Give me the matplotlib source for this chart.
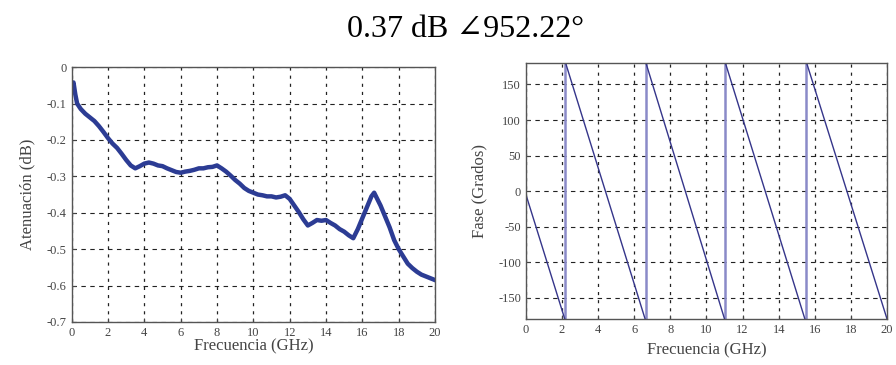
import matplotlib
matplotlib.use("Agg")
import matplotlib.pyplot as plt

plt.rcParams["axes.unicode_minus"] = False

# attenuation curve (left)
att_freq = [0.0, 0.1, 0.2, 0.3, 0.5, 0.75, 1.0, 1.25, 1.5, 1.75, 2.0, 2.25, 2.5, 2.75,
            3.0, 3.25, 3.5, 3.75, 4.0, 4.25, 4.5, 4.75, 5.0, 5.25, 5.5, 5.75, 6.0, 6.25,
            6.5, 6.75, 7.0, 7.25, 7.5, 7.75, 8.0, 8.25, 8.5, 8.75, 9.0, 9.25, 9.5, 9.75,
            10.0, 10.25, 10.5, 10.75, 11.0, 11.25, 11.5, 11.75, 12.0, 12.25, 12.5, 12.75,
            13.0, 13.25, 13.5, 13.75, 14.0, 14.25, 14.5, 14.75, 15.0, 15.25, 15.5, 15.75,
            16.0, 16.25, 16.5, 16.65, 16.8, 17.0, 17.25, 17.5, 17.75, 18.0, 18.25, 18.5,
            18.75, 19.0, 19.25, 19.5, 19.75, 20.0]
att_db = [-0.050, -0.042, -0.075, -0.100, -0.115, -0.128, -0.138, -0.148, -0.162, -0.178,
          -0.195, -0.210, -0.222, -0.238, -0.255, -0.270, -0.278, -0.272, -0.265, -0.262,
          -0.265, -0.270, -0.272, -0.278, -0.283, -0.288, -0.290, -0.287, -0.285, -0.282,
          -0.278, -0.278, -0.275, -0.274, -0.270, -0.278, -0.287, -0.298, -0.310, -0.320,
          -0.332, -0.340, -0.345, -0.350, -0.352, -0.355, -0.355, -0.358, -0.356, -0.352,
          -0.362, -0.380, -0.398, -0.418, -0.435, -0.428, -0.420, -0.422, -0.420, -0.428,
          -0.435, -0.445, -0.452, -0.462, -0.470, -0.445, -0.415, -0.385, -0.355, -0.345,
          -0.360, -0.380, -0.410, -0.440, -0.475, -0.500, -0.520, -0.540, -0.552, -0.562,
          -0.570, -0.575, -0.580, -0.585]

# phase ramps (right), each ramp goes from (f0, p0) to (f1, p1)
ramp_f0 = [0.0, 2.2, 6.65, 11.05, 15.55]
ramp_f1 = [2.15, 6.6, 11.0, 15.45, 20.0]
ramp_p0 = [-5, 180, 180, 180, 180]
ramp_p1 = [-180, -180, -180, -180, -180]
wrap_freq = [2.18, 6.63, 11.02, 15.5]

title = "0.37 dB \u2220952.22\u00b0"

serif = ["Liberation Serif", "DejaVu Serif"]
line_col = "#2c3c94"
txt_col = "#444444"


def style_axes(ax):
    ax.xaxis.grid(True, color="#222222", linestyle=(0, (2.5, 4)), linewidth=0.9)
    ax.yaxis.grid(True, color="#222222", linestyle=(0, (4, 4)), linewidth=0.8)
    ax.tick_params(direction="in", length=3, labelsize=9, colors=txt_col,
                   labelcolor=txt_col)
    for s in ax.spines.values():
        s.set_color("#555555")
        s.set_linewidth(1.0)
    for lab in ax.get_xticklabels() + ax.get_yticklabels():
        lab.set_family(serif)


fig = plt.figure(figsize=(8.96, 3.65), dpi=100)
fig.text(0.52, 0.918, title, ha="center", va="center", fontsize=23, family=serif)

ax1 = fig.add_axes([0.080, 0.118, 0.4055, 0.698])
ax1.plot(att_freq, att_db, color=line_col, linewidth=3.2)
ax1.set_xlim(0, 20)
ax1.set_ylim(-0.7, 0)
ax1.set_xticks(range(0, 21, 2))
ax1.set_yticks([0, -0.1, -0.2, -0.3, -0.4, -0.5, -0.6, -0.7])
ax1.set_yticklabels(["0", "-0.1", "-0.2", "-0.3", "-0.4", "-0.5", "-0.6", "-0.7"])
ax1.set_xlabel("Frecuencia (GHz)", fontsize=12, family=serif, color=txt_col, labelpad=0)
ax1.set_ylabel("Atenuación (dB)", fontsize=12, family=serif, color=txt_col, labelpad=8)
style_axes(ax1)

ax2 = fig.add_axes([0.587, 0.126, 0.403, 0.701])
ax2.vlines(wrap_freq, -180, 180, color="#8a8ac8", linewidth=1.8)
for f0, f1, p0, p1 in zip(ramp_f0, ramp_f1, ramp_p0, ramp_p1):
    ax2.plot([f0, f1], [p0, p1], color="#35358a", linewidth=1.0)
ax2.set_xlim(0, 20)
ax2.set_ylim(-180, 180)
ax2.set_xticks(range(0, 21, 2))
ax2.set_yticks([-150, -100, -50, 0, 50, 100, 150])
ax2.set_xlabel("Frecuencia (GHz)", fontsize=12, family=serif, color=txt_col, labelpad=5)
ax2.set_ylabel("Fase (Grados)", fontsize=12, family=serif, color=txt_col, labelpad=8)
style_axes(ax2)

fig.savefig("out.png", dpi=100)
